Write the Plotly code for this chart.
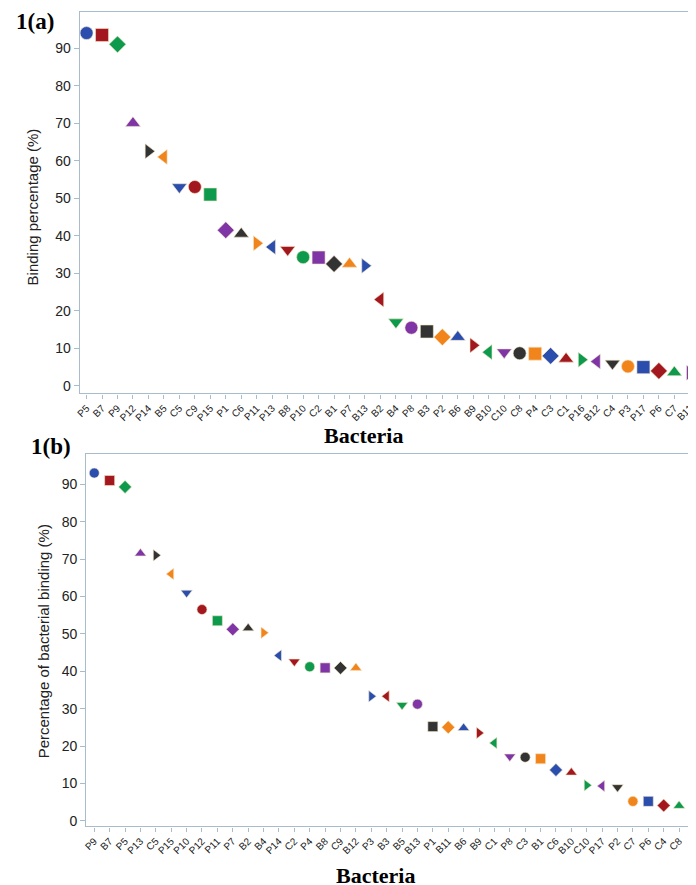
import plotly.graph_objects as go

# Panel (a)
cats_a = ["P5","B7","P9","P12","P14","B5","C5","C9","P15","P1","C6","P11","P13","B8","P10","C2","B1","P7","B13","B2",
          "B4","P8","B3","P2","B6","B9","B10","C10","C8","P4","C3","C1","P16","B12","C4","P3","P17","P6","C7","B11"]
vals_a = [94, 93.5, 91, 70, 62.5, 61, 53, 53, 51, 41.5, 40.5, 38, 37, 36.3, 34.3, 34.2, 32.5, 32.5, 32, 23,
          17, 15.5, 14.5, 13, 13, 10.8, 9, 9, 8.7, 8.6, 8, 7.2, 7, 6.5, 6, 5.2, 5, 4, 3.6, 3.5]

# Panel (b)
cats_b = ["P9","B7","P5","P13","C5","P15","P10","P12","P11","P7","B2","B4","P14","C2","P4","B8","C9","B12","P3","B3",
          "B5","B13","P1","B11","B6","B9","C1","P8","C3","B1","C6","B10","C10","P17","P2","C7","P6","C4","C8","P16"]
vals_b = [93, 91, 89.3, 71.5, 71, 66, 61, 56.5, 53.5, 51.2, 51.5, 50.3, 44.2, 42.6, 41.2, 40.9, 40.9, 40.9, 33.3, 33.3,
          31, 31.2, 25.2, 25, 24.8, 23.5, 20.8, 17.2, 17, 16.6, 13.6, 12.9, 9.5, 9.3, 9, 5.2, 5.2, 4.1, 4, 3.4]

y_ticks = [0, 10, 20, 30, 40, 50, 60, 70, 80, 90]

palette = ["#2a4dae", "#a3171e", "#0e9a4c", "#7f35a6", "#333333", "#f2841c"]
symbols = ["circle", "square", "diamond", "triangle-up", "triangle-right", "triangle-left", "triangle-down"]

def styles(n):
    return [palette[i % 6] for i in range(n)], [symbols[i % 7] for i in range(n)]

ca, sa = styles(len(cats_a))
cb, sb = styles(len(cats_b))

W, H = 688, 877  # page body keeps an 8px margin

def px(x):
    return (x - 8) / W

def py(y):
    return 1 - (y - 8) / H

fig = go.Figure()
fig.add_trace(go.Scatter(x=list(range(len(cats_a))), y=vals_a, mode="markers",
                         marker=dict(color=ca, symbol=sa, size=13, line=dict(width=0.6, color="#f4e8c8")),
                         xaxis="x", yaxis="y", showlegend=False))
fig.add_trace(go.Scatter(x=list(range(len(cats_b))), y=vals_b, mode="markers",
                         marker=dict(color=cb, symbol=sb, size=10, line=dict(width=0.6, color="#f4e8c8")),
                         xaxis="x2", yaxis="y2", showlegend=False))

axcol = "#a9bccb"
xcommon = dict(showline=True, linecolor=axcol, linewidth=1.2, mirror=True, ticks="outside", ticklen=4,
               tickcolor=axcol, tickangle=-45, tickfont=dict(family="Liberation Sans, Arial", size=10, color="#222"),
               showgrid=False, zeroline=False, tickmode="array")
ycommon = dict(showline=True, linecolor=axcol, linewidth=1.2, ticks="outside", ticklen=5, tickcolor=axcol,
               tickfont=dict(family="Liberation Sans, Arial", size=14, color="#222"), showgrid=False,
               zeroline=False, tickmode="array", tickvals=y_ticks)

fig.update_layout(
    width=W, height=H, margin=dict(l=0, r=0, t=0, b=0),
    paper_bgcolor="white", plot_bgcolor="white",
    xaxis=dict(xcommon, domain=[px(76), 1.0], range=[-0.45, 39.4], anchor="y",
               tickvals=list(range(len(cats_a))), ticktext=cats_a),
    yaxis=dict(ycommon, domain=[py(394.3), py(11.7)], range=[-2.0, 99.7], anchor="x"),
    xaxis2=dict(xcommon, domain=[px(82.7), 1.0], range=[-0.52, 39.1], anchor="y2",
                tickvals=list(range(len(cats_b))), ticktext=cats_b),
    yaxis2=dict(ycommon, domain=[py(828.3), py(455)], range=[-1.5, 98.1], anchor="x2"),
    annotations=[
        dict(text="<b>1(a)</b>", x=px(10), y=py(22), xref="paper", yref="paper", xanchor="left", yanchor="middle",
             showarrow=False, font=dict(family="Liberation Serif, Times New Roman", size=23, color="black")),
        dict(text="<b>1(b)</b>", x=px(25), y=py(448), xref="paper", yref="paper", xanchor="left", yanchor="middle",
             showarrow=False, font=dict(family="Liberation Serif, Times New Roman", size=23, color="black")),
        dict(text="Binding percentage (%)", x=px(29), y=py(207), xref="paper", yref="paper", textangle=-90,
             xanchor="center", yanchor="middle", showarrow=False,
             font=dict(family="Liberation Sans, Arial", size=15, color="#222")),
        dict(text="Percentage of bacterial binding (%)", x=px(40), y=py(643), xref="paper", yref="paper",
             textangle=-90, xanchor="center", yanchor="middle", showarrow=False,
             font=dict(family="Liberation Sans, Arial", size=15, color="#222")),
        dict(text="<b>Bacteria</b>", x=px(362), y=py(436), xref="paper", yref="paper", xanchor="center",
             yanchor="middle", showarrow=False,
             font=dict(family="Liberation Serif, Times New Roman", size=22, color="black")),
        dict(text="<b>Bacteria</b>", x=px(374), y=py(877), xref="paper", yref="paper", xanchor="center",
             yanchor="middle", showarrow=False,
             font=dict(family="Liberation Serif, Times New Roman", size=22, color="black")),
    ],
)

fig.write_html("out.html")
